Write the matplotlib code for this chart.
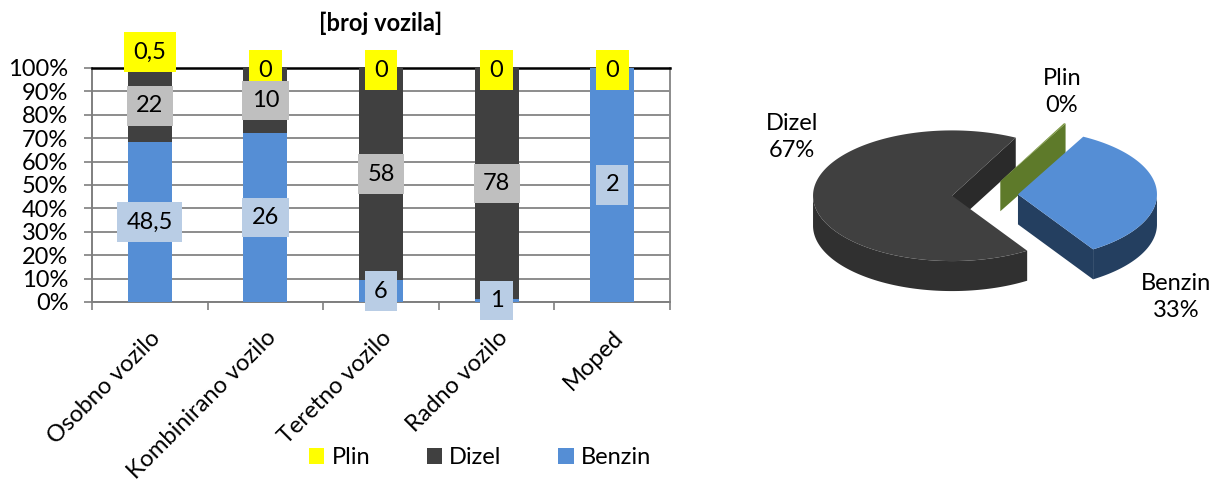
import numpy as np
import matplotlib
matplotlib.use('Agg')
import matplotlib.pyplot as plt
from matplotlib.patches import Polygon, Patch

# --- data ---
categories = ['Osobno vozilo', 'Kombinirano vozilo', 'Teretno vozilo', 'Radno vozilo', 'Moped']
benzin = [48.5, 26, 6, 1, 2]
dizel = [22, 10, 58, 78, 0]
plin = [0.5, 0, 0, 0, 0]
series = ['Benzin', 'Dizel', 'Plin']
y_ticks = [0, 10, 20, 30, 40, 50, 60, 70, 80, 90, 100]
title = '[broj vozila]'

bar_col = ['#558ED5', '#404040', '#FFFF00']
box_col = ['#B9CDE5', '#BFBFBF', '#FFFF00']

plt.rcParams['font.family'] = ['Lato', 'DejaVu Sans']
FS = 17

def fmt(v):
    return ('%g' % v).replace('.', ',')

W, H = 1218, 483
fig = plt.figure(figsize=(W / 100, H / 100), dpi=100)

# ---------- stacked 100% bar chart ----------
ax = fig.add_axes([92 / W, 181 / H, 578 / W, 234 / H])
data = np.array([benzin, dizel, plin], dtype=float)
pct = data / data.sum(axis=0) * 100
x = np.arange(len(categories))
bottom = np.zeros(len(categories))
for i, name in enumerate(series):
    ax.bar(x, pct[i], 0.38, bottom=bottom, color=bar_col[i], zorder=3, label=name)
    for j in range(len(categories)):
        if i == 1 and data[i, j] == 0:
            continue
        y = bottom[j] + pct[i, j] / 2
        # plin labels sit on top of the bars
        if i == 2 and data[i, j] > 0:
            y += 7
        if i == 2 and data[i, j] == 0:
            y -= 1
        ax.text(x[j], y, fmt(data[i, j]), ha='center', va='center', fontsize=FS,
                zorder=5 - i, clip_on=False,
                bbox=dict(boxstyle='square,pad=0.4', fc=box_col[i], ec='none'))
    bottom += pct[i]

ax.set_xlim(-0.5, len(categories) - 0.5)
ax.set_ylim(0, 100)
ax.set_yticks(y_ticks)
ax.set_yticklabels(['%d%%' % t for t in y_ticks], fontsize=FS)
ax.yaxis.grid(True, color='#8C8C8C', lw=1.4, zorder=0)
ax.set_xticks(x)
ax.set_xticklabels(categories, fontsize=FS, rotation=45, ha='right',
                   rotation_mode='anchor')
ax.set_xticks(np.arange(len(categories) + 1) - 0.5, minor=True)
ax.tick_params(axis='x', which='major', length=0, pad=18)
ax.tick_params(axis='x', which='minor', length=6, width=1.2, color='#7F7F7F')
ax.tick_params(axis='y', length=6, width=1.2, color='#7F7F7F', pad=11)
for s in ['left', 'bottom']:
    ax.spines[s].set_color('#7F7F7F')
    ax.spines[s].set_linewidth(1.4)
ax.spines['top'].set_color('#000000')
ax.spines['top'].set_linewidth(1.8)
ax.spines['right'].set_color('#8C8C8C')
ax.spines['right'].set_linewidth(1.4)
fig.text(381 / W, 1 - 23 / H, title, ha='center', va='center', fontsize=FS,
         fontweight='bold')

handles = [Patch(fc=bar_col[i], ec='none') for i in [2, 1, 0]]
fig.legend(handles, [series[i] for i in [2, 1, 0]], loc='center',
           bbox_to_anchor=(480 / W, 1 - 458 / H), ncol=3, frameon=False,
           fontsize=FS, handlelength=0.65, handleheight=0.65, handletextpad=0.3,
           columnspacing=2.4)

# ---------- 3D-look pie (pixel coordinates) ----------
ax2 = fig.add_axes([730 / W, 0, (W - 730) / W, 1])
ax2.set_xlim(730, W)
ax2.set_ylim(H, 0)
ax2.axis('off')

sums = data.sum(axis=1)
frac = sums / sums.sum()
top_col = ['#558ED5', '#404040', '#77933C']
side_col = ['#243F60', '#2A2A2A', '#5E7A2A']
rim_col = ['#243F60', '#303030', '#5E7A2A']
C = (985, 195)
R, K, DEPTH, EXPL = 139, 0.47, 30, 33
start = 62.0

def pt(c, th, dz=0):
    t = np.radians(th)
    return (c[0] + R * np.cos(t), c[1] - K * R * np.sin(t) + dz)

slices = []
hi = start
for i in range(3):
    lo = hi - 360 * frac[i]
    mid = np.radians((lo + hi) / 2)
    c = (C[0] + EXPL * np.cos(mid), C[1] - K * EXPL * np.sin(mid))
    slices.append((i, lo, hi, c))
    hi = lo

for i, lo, hi, c in [slices[1], slices[2], slices[0]]:
    # radial walls
    for ang, vis in [(lo, np.cos(np.radians(lo)) > 0), (hi, np.cos(np.radians(hi)) < 0)]:
        if vis:
            e = pt(c, ang)
            poly = [c, e, (e[0], e[1] + DEPTH), (c[0], c[1] + DEPTH)]
            ax2.add_patch(Polygon(poly, closed=True, fc=side_col[i], ec='none'))
    # outer rim (front part)
    th = np.linspace(lo, hi, 400)
    front = np.sin(np.radians(th)) < 0
    if front.any():
        idx = np.where(front)[0]
        runs = np.split(idx, np.where(np.diff(idx) > 1)[0] + 1)
        for r in runs:
            tt = th[r]
            topp = [pt(c, a) for a in tt]
            botp = [pt(c, a, DEPTH) for a in tt[::-1]]
            ax2.add_patch(Polygon(topp + botp, closed=True, fc=rim_col[i], ec='none'))
    # top face
    if hi - lo > 0.5:
        th = np.linspace(lo, hi, 200)
        ax2.add_patch(Polygon([c] + [pt(c, a) for a in th], closed=True,
                              fc=top_col[i], ec='none'))

pie_lbl = {1: (792, 137), 2: (1062, 92), 0: (1176, 297)}
for i, name in enumerate(series):
    lx, ly = pie_lbl[i]
    ax2.text(lx, ly, '%s\n%d%%' % (name, round(frac[i] * 100)), ha='center',
             va='center', fontsize=FS, linespacing=1.3)

fig.savefig('out.png', dpi=100)
